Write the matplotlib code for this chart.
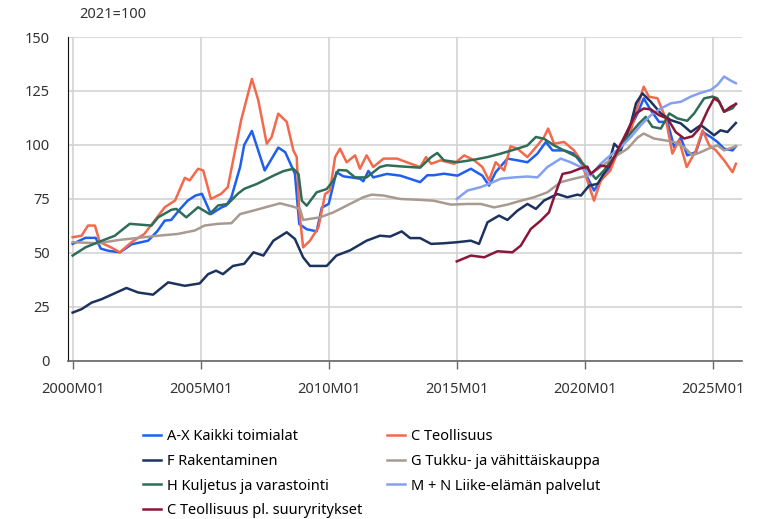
import matplotlib

matplotlib.use("Agg")

import matplotlib.pyplot as plt

plt.rcParams["font.family"] = ["Noto Sans", "DejaVu Sans"]

# values, x = decimal year, y = index (2021=100)
ax_t = [2000.0, 2000.5, 2000.9, 2001.1, 2001.4, 2001.85, 2002.3, 2002.95, 2003.3, 2003.6,
        2003.85, 2004.2, 2004.5, 2004.8, 2005.05, 2005.4, 2005.8, 2006.0, 2006.2, 2006.54,
        2006.7, 2007.0, 2007.5, 2008.03, 2008.3, 2008.68, 2008.85, 2009.14, 2009.53, 2009.73,
        2010.0, 2010.3, 2010.57, 2011.22, 2011.35, 2011.55, 2011.74, 2012.27, 2012.8, 2013.57,
        2013.85, 2014.1, 2014.5, 2015.03, 2015.55, 2016.0, 2016.26, 2016.52, 2016.98, 2017.37,
        2017.76, 2018.15, 2018.48, 2018.74, 2019.19, 2019.58, 2019.97, 2020.1, 2020.36, 2020.62,
        2021.0, 2021.4, 2021.8, 2022.06, 2022.3, 2022.58, 2022.9, 2023.23, 2023.49, 2023.75,
        2024.0, 2024.34, 2024.6, 2024.92, 2025.18, 2025.44, 2025.77, 2025.9]
ax_v = [54.2, 57.0, 57.0, 52.0, 51.0, 50.3, 54.0, 55.7, 60.0, 65.0,
        65.3, 70.4, 74.3, 76.6, 77.4, 68.0, 71.0, 72.0, 75.8, 89.8,
        100.0, 106.5, 88.2, 98.8, 96.7, 86.7, 63.4, 61.0, 60.0, 71.0,
        72.7, 87.4, 85.5, 84.4, 83.2, 88.0, 85.0, 86.6, 85.8, 82.8,
        86.0, 86.0, 86.7, 85.8, 89.0, 85.8, 81.2, 87.4, 93.7, 92.9,
        92.0, 96.0, 101.4, 97.5, 97.5, 96.0, 89.8, 85.0, 78.9, 83.5,
        89.8, 99.0, 108.4, 114.6, 121.6, 116.1, 110.7, 110.7, 99.0, 103.4,
        95.2, 96.7, 106.0, 103.7, 101.4, 98.3, 97.5, 99.4]

c_t = [2000.0, 2000.35, 2000.6, 2000.87, 2001.06, 2001.5, 2001.84, 2002.3, 2002.8, 2003.2,
       2003.6, 2004.0, 2004.38, 2004.57, 2004.9, 2005.1, 2005.4, 2005.8, 2006.06, 2006.32,
       2006.58, 2007.0, 2007.25, 2007.58, 2007.77, 2008.03, 2008.36, 2008.62, 2008.75, 2008.85,
       2009.0, 2009.27, 2009.6, 2009.86, 2010.05, 2010.25, 2010.44, 2010.7, 2011.03, 2011.22,
       2011.48, 2011.74, 2012.14, 2012.66, 2013.05, 2013.57, 2013.8, 2014.0, 2014.37, 2014.9,
       2015.29, 2015.68, 2016.0, 2016.26, 2016.52, 2016.85, 2017.1, 2017.37, 2017.76, 2018.15,
       2018.41, 2018.57, 2018.8, 2019.19, 2019.58, 2019.85, 2020.1, 2020.36, 2020.62, 2021.0,
       2021.4, 2021.8, 2022.06, 2022.3, 2022.5, 2022.84, 2023.16, 2023.42, 2023.68, 2023.98,
       2024.34, 2024.6, 2024.86, 2025.12, 2025.44, 2025.77, 2025.9]
c_v = [57.3, 58.0, 62.7, 62.7, 55.0, 52.6, 50.3, 55.0, 58.8, 65.0,
       71.2, 74.3, 84.8, 83.6, 89.0, 88.2, 75.0, 77.4, 80.5, 96.0,
       111.5, 130.6, 120.7, 100.6, 103.7, 114.5, 110.7, 97.5, 94.4, 69.6,
       52.6, 55.7, 61.9, 77.3, 78.9, 94.4, 98.3, 92.0, 95.2, 89.0,
       95.2, 89.8, 93.7, 93.7, 92.0, 89.8, 94.4, 91.3, 92.9, 91.3,
       95.2, 92.9, 89.8, 83.6, 92.0, 88.2, 99.4, 98.3, 94.4, 99.8,
       103.7, 107.6, 100.6, 101.4, 97.5, 92.9, 83.5, 74.2, 83.5, 88.2,
       100.6, 106.8, 117.7, 127.0, 122.4, 121.6, 112.3, 96.0, 102.2, 89.8,
       97.5, 106.8, 99.8, 97.5, 92.9, 87.4, 91.3]

f_t = [2000.0, 2000.35, 2000.74, 2001.13, 2001.58, 2002.1, 2002.56, 2003.14, 2003.73, 2004.38,
       2004.96, 2005.29, 2005.6, 2005.87, 2006.26, 2006.7, 2007.06, 2007.45, 2007.84, 2008.36,
       2008.68, 2009.0, 2009.27, 2009.92, 2010.3, 2010.83, 2011.48, 2012.0, 2012.4, 2012.85,
       2013.18, 2013.57, 2014.0, 2014.5, 2015.03, 2015.55, 2015.87, 2016.2, 2016.65, 2016.98,
       2017.37, 2017.76, 2018.09, 2018.41, 2018.93, 2019.32, 2019.71, 2019.85, 2020.17, 2020.5,
       2020.9, 2021.15, 2021.4, 2021.8, 2022.0, 2022.25, 2022.58, 2022.97, 2023.36, 2023.75,
       2024.14, 2024.53, 2024.8, 2025.05, 2025.3, 2025.57, 2025.9]
f_v = [22.4, 24.0, 27.0, 28.6, 31.0, 33.8, 31.7, 30.7, 36.4, 34.8,
       35.9, 40.2, 41.8, 40.2, 44.0, 45.0, 50.3, 48.8, 55.7, 59.6,
       56.5, 48.0, 44.0, 44.0, 48.8, 51.2, 55.7, 58.0, 57.6, 60.0,
       56.9, 56.9, 54.2, 54.5, 55.0, 55.7, 54.2, 64.2, 67.3, 65.3,
       69.6, 72.7, 70.4, 74.3, 77.3, 75.8, 77.0, 76.6, 81.2, 82.0,
       89.8, 100.6, 97.5, 110.0, 119.3, 123.9, 120.0, 114.6, 111.5, 110.0,
       106.0, 109.2, 106.8, 104.5, 106.8, 106.0, 110.2]

g_t = [2000.0, 2001.0, 2001.8, 2002.56, 2003.34, 2004.1, 2004.77, 2005.15, 2005.68, 2006.2,
       2006.54, 2007.3, 2008.1, 2008.62, 2008.88, 2009.0, 2009.66, 2010.18, 2010.83, 2011.35,
       2011.68, 2012.14, 2012.8, 2013.57, 2014.1, 2014.77, 2015.42, 2015.94, 2016.46, 2016.98,
       2017.5, 2018.02, 2018.54, 2019.06, 2019.58, 2020.1, 2020.23, 2020.62, 2021.15, 2021.67,
       2022.06, 2022.3, 2022.7, 2023.1, 2023.49, 2023.88, 2024.2, 2024.53, 2024.92, 2025.18,
       2025.44, 2025.9]
g_v = [55.0, 54.5, 56.0, 57.0, 58.0, 58.8, 60.4, 62.7, 63.5, 63.8,
       68.0, 70.4, 73.0, 71.4, 70.4, 65.3, 66.5, 68.8, 72.7, 75.8,
       77.0, 76.6, 75.0, 74.6, 74.2, 72.4, 72.7, 72.7, 71.1, 72.4,
       74.2, 75.8, 78.1, 82.8, 84.4, 85.8, 86.6, 89.8, 94.4, 98.3,
       103.4, 105.3, 103.0, 102.2, 101.4, 99.0, 95.2, 96.7, 98.8, 99.8,
       97.5, 99.4]

h_t = [2000.0, 2000.5, 2001.0, 2001.65, 2001.9, 2002.23, 2003.08, 2003.34, 2003.86, 2004.05,
       2004.44, 2004.9, 2005.35, 2005.68, 2006.06, 2006.45, 2006.7, 2007.2, 2007.84, 2008.23,
       2008.62, 2008.82, 2008.95, 2009.14, 2009.53, 2009.92, 2010.18, 2010.38, 2010.7, 2011.03,
       2011.48, 2012.0, 2012.27, 2012.8, 2013.57, 2014.0, 2014.24, 2014.5, 2015.03, 2015.68,
       2016.2, 2016.72, 2017.37, 2017.76, 2018.09, 2018.41, 2018.8, 2019.32, 2019.71, 2020.1,
       2020.43, 2020.75, 2021.15, 2021.67, 2022.12, 2022.38, 2022.64, 2022.97, 2023.3, 2023.62,
       2024.0, 2024.27, 2024.66, 2024.99, 2025.18, 2025.44, 2025.77, 2025.9]
h_v = [48.8, 52.6, 55.0, 58.0, 60.4, 63.5, 62.7, 66.5, 70.0, 70.4,
       66.5, 71.2, 68.0, 72.0, 72.7, 77.4, 79.7, 82.0, 85.8, 87.9,
       89.0, 86.6, 74.2, 71.9, 78.1, 79.6, 83.5, 88.4, 88.2, 85.0,
       85.0, 89.8, 90.6, 90.1, 89.5, 94.4, 96.3, 92.9, 92.0, 93.2,
       94.4, 96.0, 98.3, 99.8, 103.7, 102.9, 99.8, 96.7, 94.4, 89.0,
       84.3, 88.2, 94.4, 103.7, 110.0, 113.0, 108.4, 107.6, 114.6, 112.3,
       111.2, 114.6, 121.6, 122.4, 121.6, 115.4, 117.0, 119.0]

mn_t = [2015.0, 2015.42, 2015.94, 2016.26, 2016.72, 2017.24, 2017.76, 2018.15, 2018.54, 2019.06,
        2019.45, 2019.84, 2020.1, 2020.23, 2020.62, 2021.0, 2021.4, 2021.8, 2022.19, 2022.58,
        2022.97, 2023.36, 2023.75, 2024.14, 2024.47, 2024.92, 2025.18, 2025.44, 2025.7, 2025.9]
mn_v = [75.0, 78.9, 80.5, 82.0, 84.4, 85.0, 85.4, 85.0, 89.8, 93.7,
        92.0, 89.8, 87.0, 85.9, 91.3, 95.2, 99.0, 103.7, 109.2, 113.8,
        116.9, 119.3, 120.0, 122.4, 123.9, 125.5, 127.8, 131.7, 129.8, 128.6]

cpl_t = [2015.0, 2015.55, 2016.07, 2016.59, 2017.17, 2017.5, 2017.89, 2018.28, 2018.6, 2018.8,
         2019.13, 2019.45, 2019.84, 2020.1, 2020.23, 2020.62, 2020.95, 2021.28, 2021.67, 2022.0,
         2022.3, 2022.58, 2022.9, 2023.23, 2023.55, 2023.88, 2024.2, 2024.47, 2024.8, 2025.05,
         2025.25, 2025.44, 2025.7, 2025.9]
cpl_v = [46.1, 48.8, 48.0, 50.8, 50.3, 53.4, 61.1, 65.0, 68.8, 75.8,
         86.6, 87.4, 89.2, 90.0, 86.6, 90.5, 89.8, 97.5, 106.8, 114.6,
         116.9, 116.5, 113.8, 112.3, 106.0, 103.0, 104.0, 107.6, 116.1, 121.6,
         120.0, 115.4, 117.7, 119.0]

x_ticks = [2000, 2005, 2010, 2015, 2020, 2025]
x_tick_labels = ["2000M01", "2005M01", "2010M01", "2015M01", "2020M01", "2025M01"]
y_ticks = [0, 25, 50, 75, 100, 125, 150]

series = [
    ("A-X Kaikki toimialat", ax_t, ax_v, "#1f5fef"),
    ("C Teollisuus", c_t, c_v, "#f4694c"),
    ("F Rakentaminen", f_t, f_v, "#1d335f"),
    ("G Tukku- ja vähittäiskauppa", g_t, g_v, "#a99a91"),
    ("H Kuljetus ja varastointi", h_t, h_v, "#2f6d58"),
    ("M + N Liike-elämän palvelut", mn_t, mn_v, "#84a0f0"),
    ("C Teollisuus pl. suuryritykset", cpl_t, cpl_v, "#8b1638"),
]

fig = plt.figure(figsize=(7.66, 5.19), dpi=100)
ax = fig.add_axes([0.0888, 0.3045, 0.8799, 0.6242])

lines = {}
for label, xs, ys, color in series:
    (ln,) = ax.plot(xs, ys, color=color, linewidth=1.8, label=label, solid_joinstyle="round")
    lines[label] = ln

ax.set_xlim(1999.82, 2026.14)
ax.set_ylim(0, 150)
ax.set_xticks(x_ticks)
ax.set_xticklabels(x_tick_labels)
ax.set_yticks(y_ticks)
ax.grid(True, color="#cfcfcf", linewidth=1.1)
ax.set_axisbelow(True)
for side in ("top", "right"):
    ax.spines[side].set_visible(False)
ax.spines["left"].set_color("#111111")
ax.spines["bottom"].set_color("#666666")
ax.spines["bottom"].set_linewidth(1.2)
ax.tick_params(axis="y", length=0, pad=13, labelsize=10.5, labelcolor="#333333")
ax.tick_params(axis="x", length=6, width=1, color="#666666", pad=9, labelsize=10.5, labelcolor="#333333")

fig.text(79 / 766, 1 - 15 / 519, "2021=100", fontsize=10.5, color="#333333", va="center", ha="left")

order = ["A-X Kaikki toimialat", "F Rakentaminen", "H Kuljetus ja varastointi",
         "C Teollisuus pl. suuryritykset", "C Teollisuus", "G Tukku- ja vähittäiskauppa",
         "M + N Liike-elämän palvelut"]
fig.legend([lines[k] for k in order], order, loc="upper left", bbox_to_anchor=(0.1867, 0.174),
           ncol=2, frameon=False, fontsize=10.5, handlelength=1.2, handletextpad=0.45,
           columnspacing=1.7, labelspacing=0.68, borderpad=0, borderaxespad=0)

fig.savefig("out.png", dpi=100)
plt.close(fig)
